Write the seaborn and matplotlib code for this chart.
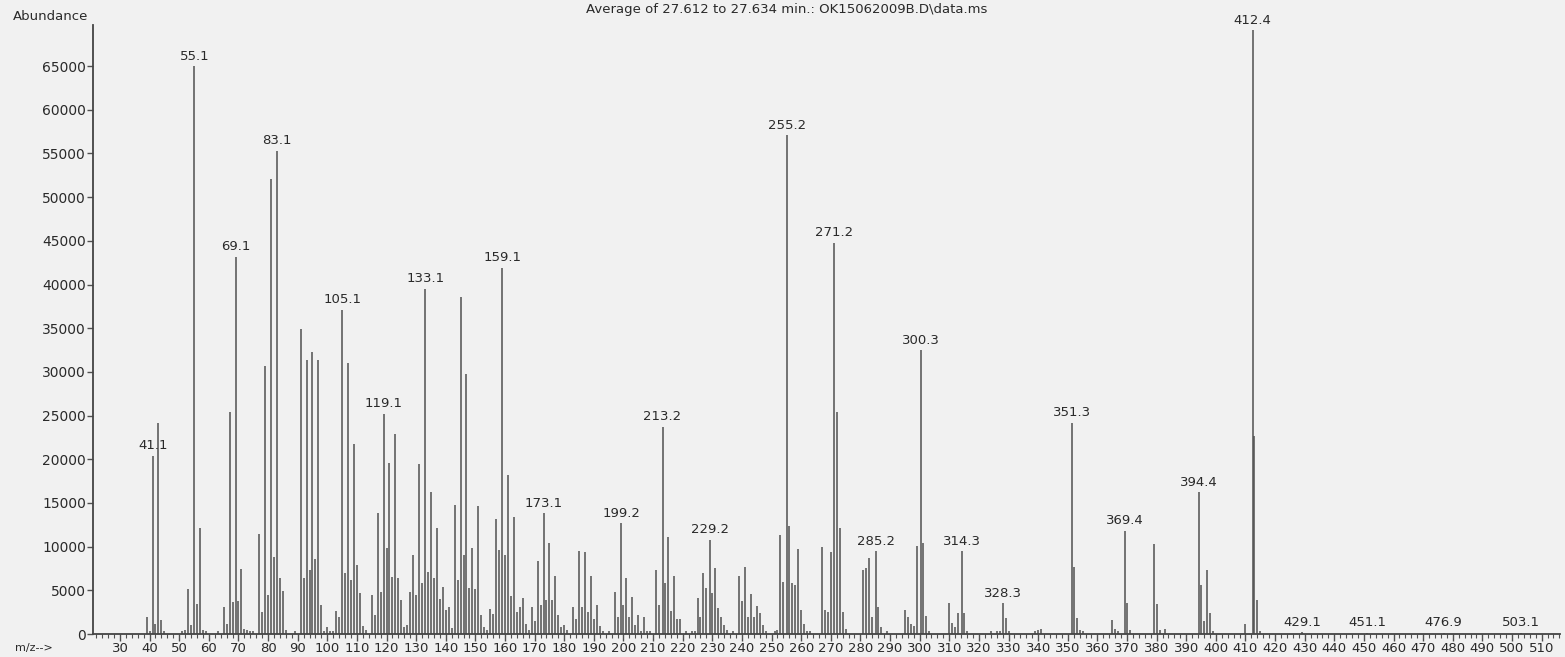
import matplotlib
matplotlib.use("Agg")
import matplotlib.pyplot as plt
import seaborn as sns
import pandas as pd
from matplotlib.ticker import MultipleLocator

# ---------------- data ----------------
mz = [39, 40, 41.1, 42, 43, 44, 45, 51, 52, 53, 54, 55.1, 56, 57, 58, 59, 63,
      65, 66, 67, 68, 69.1, 70, 71, 72, 73, 74, 75, 77, 78, 79, 80, 81, 82, 83.1,
      84, 85, 86, 89, 91, 92, 93, 94, 95, 96, 97, 98, 99, 100, 101, 102, 103,
      104, 105.1, 106, 107, 108, 109, 110, 111, 112, 113, 115, 116, 117, 118,
      119.1, 120, 121, 122, 123, 124, 125, 126, 127, 128, 129, 130, 131, 132,
      133.1, 134, 135, 136, 137, 138, 139, 140, 141, 142, 143, 144, 145, 146,
      147, 148, 149, 150, 151, 152, 153, 154, 155, 156, 157, 158, 159.1, 160,
      161, 162, 163, 164, 165, 166, 167, 168, 169, 170, 171, 172, 173.1, 174,
      175, 176, 177, 178, 179, 180, 181, 183, 184, 185, 186, 187, 188, 189, 190,
      191, 192, 193, 195, 197, 198, 199.2, 200, 201, 202, 203, 204, 205, 206,
      207, 208, 209, 211, 212, 213.2, 214, 215, 216, 217, 218, 219, 221, 223,
      224, 225, 226, 227, 228, 229.2, 230, 231, 232, 233, 234, 235, 237, 239,
      240, 241, 242, 243, 244, 245, 246, 247, 248, 251, 252, 253, 254, 255.2,
      256, 257, 258, 259, 260, 261, 262, 263, 267, 268, 269, 270, 271.2, 272,
      273, 274, 275, 281, 282, 283, 284, 285.2, 286, 287, 289, 295, 296, 297,
      298, 299, 300.3, 301, 302, 303, 310, 311, 312, 313, 314.3, 315, 316, 324,
      326, 327, 328.3, 329, 330, 339, 340, 341, 351.3, 352, 353, 354, 355, 365,
      366, 367, 369.4, 370, 371, 379, 380, 381, 383, 394.4, 395, 396, 397, 398,
      399, 410, 412.4, 413, 414, 415, 429.1, 451.1, 476.9, 503.1]

abundance = [1900, 400, 20400, 1100, 24100, 1600, 300, 300, 500, 5200, 1000,
             65000, 3400, 12100, 500, 300, 300, 3100, 1100, 25400, 3700, 43200,
             3800, 7400, 600, 500, 300, 400, 11500, 2500, 30700, 4500, 52100,
             8800, 55300, 6400, 4900, 500, 400, 34900, 6400, 31400, 7300, 32300,
             8600, 31400, 3300, 400, 800, 400, 300, 2600, 1900, 37100, 7000,
             31000, 6200, 21700, 7900, 4700, 900, 500, 4500, 2200, 13800, 4800,
             25200, 9800, 19600, 6500, 22900, 6400, 3900, 800, 1000, 4800, 9000,
             4500, 19500, 5800, 39500, 7100, 16300, 6400, 12100, 4000, 5400,
             2800, 3100, 700, 14800, 6200, 38600, 9000, 29800, 5300, 9800, 5100,
             14600, 2200, 800, 500, 2900, 2300, 13200, 9600, 41900, 9000, 18200,
             4300, 13400, 2500, 3100, 4100, 1200, 500, 3100, 1500, 8400, 3300,
             13800, 3900, 10400, 3900, 6600, 2200, 800, 1000, 500, 3100, 1700,
             9500, 3100, 9400, 2500, 6600, 1700, 3300, 900, 400, 300, 4800, 1900,
             12700, 3300, 6400, 1900, 4200, 1000, 2200, 400, 2000, 400, 300, 7300,
             3300, 23700, 5800, 11100, 2600, 6600, 1700, 1700, 300, 400, 300,
             4100, 1900, 7000, 5300, 10800, 4700, 7600, 3000, 2000, 1000, 500,
             300, 6600, 3800, 7700, 2000, 4600, 2000, 3200, 2400, 1000, 400, 300,
             500, 11300, 6000, 57100, 12400, 5800, 5600, 9700, 2700, 1200, 400,
             300, 10000, 2800, 2500, 9400, 44800, 25400, 12100, 2500, 600, 7300,
             7500, 8700, 2000, 9500, 3100, 800, 300, 2700, 1900, 1200, 900, 10100,
             32500, 10400, 2100, 300, 3500, 1300, 800, 2400, 9500, 2400, 300, 300,
             400, 400, 3500, 1800, 300, 300, 500, 600, 24200, 7700, 1800, 500,
             400, 1600, 600, 400, 11800, 3600, 500, 10300, 3400, 500, 600, 16200,
             5600, 1500, 7300, 2400, 300, 1200, 69100, 22700, 3900, 400, 200,
             150, 150, 150]

labelled = [41.1, 55.1, 69.1, 83.1, 105.1, 119.1, 133.1, 159.1, 173.1, 199.2,
            213.2, 229.2, 255.2, 271.2, 285.2, 300.3, 314.3, 328.3, 351.3,
            369.4, 394.4, 412.4, 429.1, 451.1, 476.9, 503.1]

y_ticks = list(range(0, 65001, 5000))
x_ticks = list(range(30, 511, 10))

title = "Average of 27.612 to 27.634 min.: OK15062009B.D\\data.ms"

# ---------------- style ----------------
bg = "#f1f1f1"
ink = "#2a2a2a"
line_c = "#505050"

sns.set_style("white")
plt.rcParams["font.family"] = ["DejaVu Sans"]

W, H = 1565, 657
fig = plt.figure(figsize=(W / 100, H / 100), dpi=100, facecolor=bg)
x0, x1, yb, yt = 93, 1560, 634, 25
ax = fig.add_axes([x0 / W, 1 - yb / H, (x1 - x0) / W, (yb - yt) / H])
ax.set_facecolor(bg)

df = pd.DataFrame({"mz": mz, "abundance": abundance})
ax.vlines(df["mz"], 0, df["abundance"], color=line_c, lw=1.1)

look = dict(zip(mz, abundance))
for m in labelled:
    ax.annotate(f"{m:.1f}", (m, look[m]), xytext=(0, 2.5),
                textcoords="offset points", ha="center", va="bottom",
                fontsize=9.5, color=ink, annotation_clip=False)

ax.set_xlim(20.9, 516.2)
ax.set_ylim(0, 69700)
ax.set_xticks(x_ticks)
ax.set_xticklabels([str(t) for t in x_ticks])
ax.xaxis.set_minor_locator(MultipleLocator(2))
ax.set_yticks(y_ticks)
ax.set_yticklabels([str(t) for t in y_ticks])

ax.tick_params(axis="x", which="major", direction="out", length=5, width=1,
               colors=line_c, labelcolor=ink, labelsize=9.5, pad=1)
ax.tick_params(axis="x", which="minor", direction="out", length=3, width=0.8,
               colors=line_c)
ax.tick_params(axis="y", which="major", direction="out", length=4, width=1,
               colors=line_c, labelcolor=ink, labelsize=10, pad=1)
ax.tick_params(bottom=True, left=True, which="both")

sns.despine(ax=ax, top=True, right=True)
for s in ("left", "bottom"):
    ax.spines[s].set_color("#444444")
    ax.spines[s].set_linewidth(1.3)
ax.grid(False)

fig.text(787 / W, 1 - 10 / H, title, ha="center", va="center",
         fontsize=9.5, color=ink)
fig.text(13 / W, 1 - 17 / H, "Abundance", ha="left", va="center",
         fontsize=9.5, color=ink)
fig.text(15 / W, 1 - 648 / H, "m/z-->", ha="left", va="center",
         fontsize=8, color=ink)

fig.savefig("out.png", dpi=100, facecolor=bg)
